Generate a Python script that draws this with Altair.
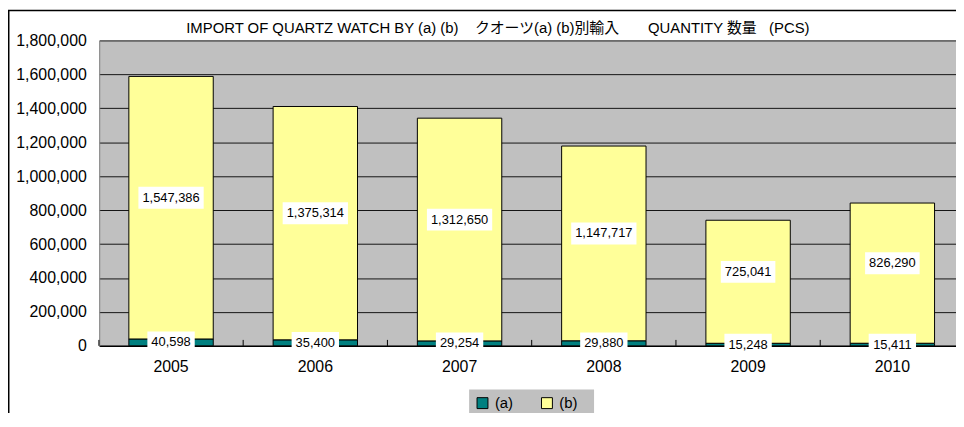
import altair as alt
import pandas as pd

years = ['2005', '2006', '2007', '2008', '2009', '2010']
series_a = [40598, 35400, 29254, 29880, 15248, 15411]
series_b = [1547386, 1375314, 1312650, 1147717, 725041, 826290]
series_names = ['(a)', '(b)']
series_colors = ['#008080', '#FFFF99']
y_ticks = [0, 200000, 400000, 600000, 800000, 1000000, 1200000, 1400000, 1600000, 1800000]
NB = '\u00a0'
title_text = ("IMPORT OF QUARTZ WATCH BY (a) (b)" + NB * 4 + "クオーツ(a) (b)別輸入" + NB * 7
              + "QUANTITY 数量" + NB * 3 + "(PCS)")

rows = []
for i, yr in enumerate(years):
    rows.append({'year': yr, 'series': series_names[0], 'ord': 0, 'value': series_a[i]})
    rows.append({'year': yr, 'series': series_names[1], 'ord': 1, 'value': series_b[i]})
df = pd.DataFrame(rows)

FONT = "Liberation Sans, Arial, Noto Sans CJK JP"

xscale = alt.Scale(paddingInner=0.415, paddingOuter=0.177, align=0.58)
yscale = alt.Scale(domain=[0, 1800000], nice=False)
xaxis = alt.Axis(labelAngle=0, labelFontSize=16, labelFont=FONT, labelColor='black',
                 labelPadding=13, ticks=False, domainColor='black', domainWidth=1.5,
                 grid=False, title=None)
yaxis = alt.Axis(values=y_ticks, format=',d', labelFontSize=16, labelFont=FONT,
                 labelColor='black', labelPadding=13, ticks=False, title=None,
                 domainColor='#808080', gridColor='black', gridWidth=1, gridOpacity=0.9)

base = alt.Chart(df).transform_stack(
    stack='value', groupby=['year'], as_=['y0', 'y1'], sort=[alt.SortField('ord')]
).transform_calculate(
    mid='(datum.y0 + datum.y1) / 2',
    label="format(datum.value, ',')",
    digits='length(toString(datum.value))',
).transform_calculate(
    hw='(13 * (0.556 * datum.digits + 0.278 * floor((datum.digits - 1) / 3)) + 8) / 10',
    o="datum.series == '(b)' ? -2 : 0",
).transform_calculate(
    path="'M' + (-datum.hw) + ',' + (datum.o - 2.2) + 'H' + datum.hw + 'V' + (datum.o + 2.2) + 'H' + (-datum.hw) + 'Z'"
)

X = alt.X('year:N', scale=xscale, axis=xaxis, title=None)

bars = base.mark_bar(stroke='black', strokeWidth=1, opacity=1).encode(
    x=X,
    y=alt.Y('y0:Q', scale=yscale, axis=yaxis, title=None),
    y2='y1:Q',
    color=alt.Color('series:N', scale=alt.Scale(domain=series_names, range=series_colors),
                    legend=alt.Legend(orient='none', legendX=379, legendY=358, direction='horizontal',
                                      title=None, symbolType='square', symbolSize=121,
                                      symbolStrokeColor='black', symbolStrokeWidth=1,
                                      symbolOpacity=1, labelFontSize=15, labelFont=FONT,
                                      labelColor='black', labelOffset=5, columnPadding=26,
                                      padding=0)),
)

ticks = base.transform_filter("datum.series == '(a)'").mark_rule(
    color='black', strokeWidth=1, xOffset=-30.2
).encode(
    x=alt.X('year:N', scale=xscale, axis=xaxis, title=None, bandPosition=0),
    y=alt.value(302), y2=alt.value(308),
)

Ymid = alt.Y('mid:Q', scale=yscale, axis=yaxis, title=None)

boxes = base.mark_point(filled=True, color='white', opacity=1, size=100, strokeWidth=0).encode(
    x=X, y=Ymid,
    shape=alt.Shape('path:N', scale=None, legend=None),
)

text_b = base.transform_filter("datum.series == '(b)'").mark_text(
    fontSize=13, font=FONT, color='black', baseline='middle', dy=-10
).encode(x=X, y=Ymid, text='label:N')
text_a = base.transform_filter("datum.series == '(a)'").mark_text(
    fontSize=13, font=FONT, color='black', baseline='middle'
).encode(x=X, y=Ymid, text='label:N')

one = pd.DataFrame({'k': [0]})
frame = alt.Chart(one).mark_rect(filled=False, stroke='black', strokeWidth=1.5).encode(
    x=alt.value(-91.25), x2=alt.value(1000), y=alt.value(-30.25), y2=alt.value(600)
)
legend_bg = alt.Chart(one).mark_rect(fill='#C0C0C0').encode(
    x=alt.value(373), x2=alt.value(499), y=alt.value(352), y2=alt.value(377)
)
title = alt.Chart(one).mark_text(fontSize=15, font=FONT, color='black', align='center',
                                 baseline='middle').encode(
    x=alt.value(402), y=alt.value(-13), text=alt.value(title_text)
)

chart = alt.layer(legend_bg, bars, ticks, boxes, text_b, text_a, title, frame).properties(
    width=864, height=308,
    padding={'left': 92, 'top': 31, 'right': 0, 'bottom': 66},
    autosize=alt.AutoSizeParams(type='none'),
    background='white',
).configure_view(fill='#C0C0C0', strokeWidth=0)

chart.save("out.html", embed_options={"renderer": "svg", "actions": False})
